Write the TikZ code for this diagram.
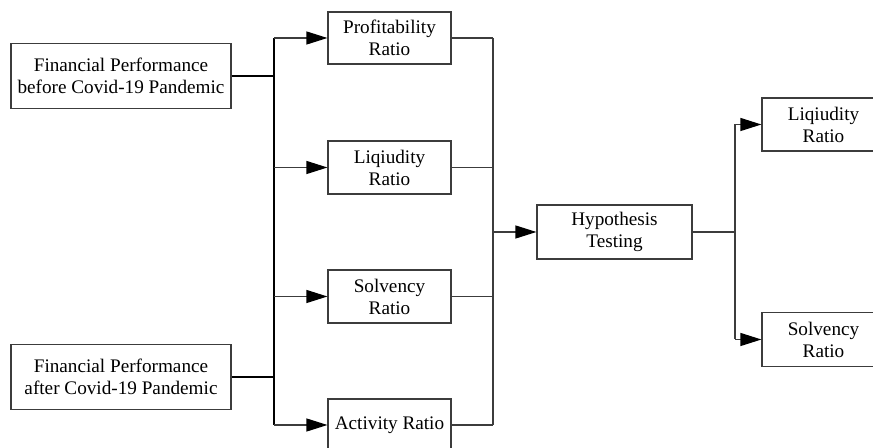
\documentclass[tikz,border=0pt]{standalone}
\usepackage{fontspec}
\setmainfont{Liberation Serif}
\usepackage{tikz}
\usetikzlibrary{arrows.meta}
\definecolor{edge}{RGB}{60, 60, 60}

\begin{document}
\begin{tikzpicture}[x=0.5pt,y=-0.5pt,
  box/.style={draw=edge,line width=0.6pt,align=center,inner sep=0pt,font=\rmfamily\fontsize{9.6}{11}\selectfont},
  arr/.style={-{Triangle[length=10.5pt,width=6.5pt,black]}},
  link/.style={edge,line width=0.6pt},
  bold/.style={black,line width=0.9pt}]
\clip (0,0) rectangle (873,448);
\node[box,minimum width=110pt,minimum height=32.5pt] (before) at (121,76) {Financial Performance\\before Covid-19 Pandemic};
\node[box,minimum width=110pt,minimum height=32.5pt] (after) at (121,377) {Financial Performance\\after Covid-19 Pandemic};
\node[box,minimum width=61.5pt,minimum height=26pt] (profit) at (389.5,38) {Profitability\\Ratio};
\node[box,minimum width=61.5pt,minimum height=26.5pt] (liquid) at (389.5,167.5) {Liqiudity\\Ratio};
\node[box,minimum width=61.5pt,minimum height=26.5pt] (solv) at (389.5,296.5) {Solvency\\Ratio};
\node[box,minimum width=61.5pt,minimum height=26pt] (activ) at (389.5,425) {Activity Ratio};
\node[box,minimum width=77.5pt,minimum height=27pt] (hypo) at (614.5,232) {Hypothesis\\Testing};
\node[box,minimum width=61.5pt,minimum height=26.5pt] (liqR) at (823.5,124.5) {Liqiudity\\Ratio};
\node[box,minimum width=61.5pt,minimum height=27pt] (solvR) at (823.5,339.5) {Solvency\\Ratio};
\coordinate (tr) at (274,0);
\coordinate (rr) at (493,0);
\coordinate (br) at (735,0);
% left trunk
\draw[bold] (before.east) -- (tr |- before.east);
\draw[bold] (after.east) -- (tr |- after.east);
\draw[bold] (tr |- profit.west) -- (tr |- activ.west);
\draw[link,arr] (tr |- profit.west) -- (profit.west);
\draw[link,arr] (tr |- liquid.west) -- (liquid.west);
\draw[link,arr] (tr |- solv.west) -- (solv.west);
\draw[link,arr] (tr |- activ.west) -- (activ.west);
% right trunk
\draw[link] (profit.east) -- (rr |- profit.east);
\draw[link] (liquid.east) -- (rr |- liquid.east);
\draw[link] (solv.east) -- (rr |- solv.east);
\draw[link] (activ.east) -- (rr |- activ.east);
\draw[link] (rr |- profit.east) -- (rr |- activ.east);
\draw[link,arr] (rr |- hypo.west) -- (hypo.west);
% results
\draw[link] (hypo.east) -- (br |- hypo.east);
\draw[link] (br |- liqR.west) -- (br |- solvR.west);
\draw[link,arr] (br |- liqR.west) -- (liqR.west);
\draw[link,arr] (br |- solvR.west) -- (solvR.west);
\end{tikzpicture}
\end{document}
